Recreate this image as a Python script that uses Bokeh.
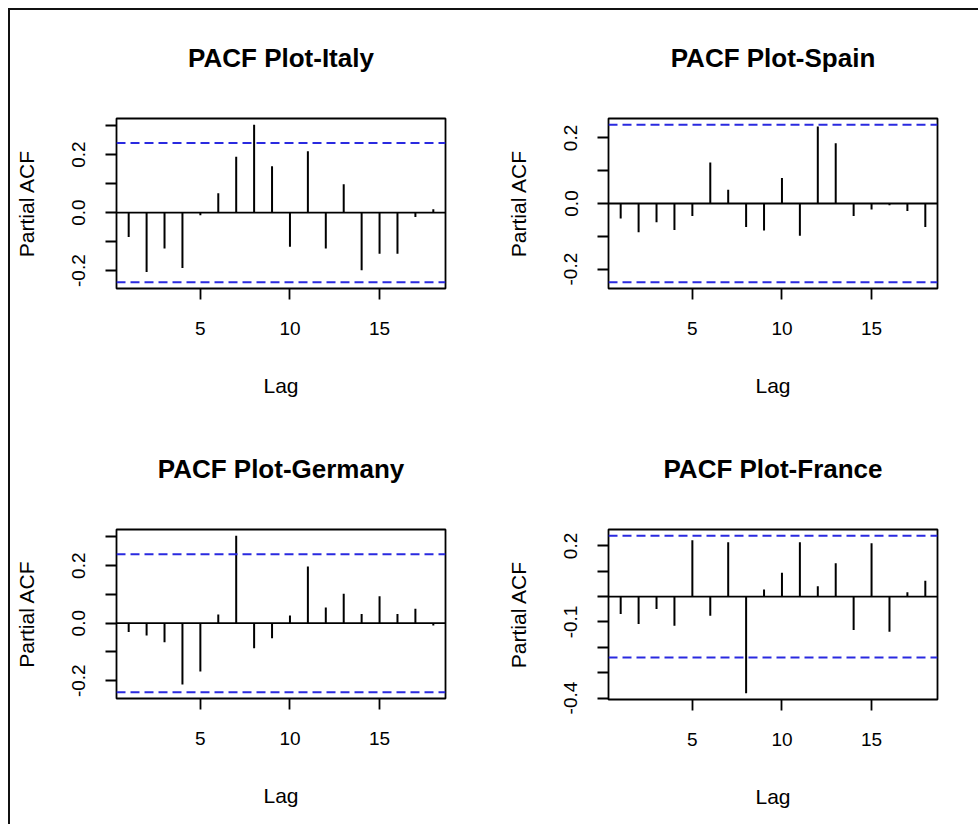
from bokeh.plotting import figure
from bokeh.layouts import gridplot
from bokeh.models import FixedTicker, Range1d, Span, LinearAxis
from bokeh.embed import file_html
from bokeh.resources import INLINE

# ---- data ----
lags = list(range(1, 19))

italy = [-0.084, -0.205, -0.124, -0.191, -0.009, 0.067, 0.193, 0.303, 0.160,
         -0.118, 0.212, -0.124, 0.098, -0.199, -0.142, -0.142, -0.015, 0.012]
spain = [-0.046, -0.088, -0.057, -0.081, -0.038, 0.125, 0.042, -0.072, -0.082,
         0.078, -0.098, 0.235, 0.184, -0.038, -0.018, -0.005, -0.023, -0.072]
germany = [-0.031, -0.043, -0.066, -0.213, -0.168, 0.030, 0.304, -0.087, -0.052,
           0.027, 0.197, 0.055, 0.102, 0.032, 0.094, 0.032, 0.050, -0.008]
france = [-0.069, -0.108, -0.049, -0.115, 0.222, -0.075, 0.215, -0.381, 0.028,
          0.094, 0.215, 0.041, 0.132, -0.132, 0.211, -0.139, 0.017, 0.063]

ci_limit = 0.24  # confidence bound shown by the dashed lines

titles = ["PACF Plot-Italy", "PACF Plot-Spain", "PACF Plot-Germany", "PACF Plot-France"]

x_ticks = [5, 10, 15]
y_ticks_std = [-0.2, -0.1, 0.0, 0.1, 0.2, 0.3]
y_labels_std = {-0.2: "-0.2", 0.0: "0.0", 0.2: "0.2"}
y_ticks_fr = [-0.4, -0.3, -0.2, -0.1, 0.0, 0.1, 0.2]
y_labels_fr = {-0.4: "-0.4", -0.1: "-0.1", 0.2: "0.2"}

FONT = "Liberation Sans"


def pacf_panel(title, vals, yticks, ylabels, width, height, b_left, b_top,
               f_height):
    lo = min(min(vals), -ci_limit)
    hi = max(max(vals), ci_limit)
    ypad = (hi - lo) * 0.04
    xpad = (max(lags) - min(lags)) * 0.04
    fw = 329
    p = figure(width=width, height=height, frame_width=fw, frame_height=f_height,
               x_range=Range1d(min(lags) - xpad, max(lags) + xpad),
               y_range=Range1d(lo - ypad, hi + ypad),
               title=None,
               output_backend="svg", toolbar_location=None,
               min_border_left=b_left, min_border_top=b_top,
               min_border_right=width - b_left - fw,
               min_border_bottom=height - b_top - f_height)

    p.grid.visible = False
    p.outline_line_color = "black"
    p.outline_line_width = 1.8
    p.background_fill_color = "white"
    p.border_fill_color = "white"

    p.segment(x0=lags, y0=[0] * len(lags), x1=lags, y1=vals,
              line_color="black", line_width=2)
    p.add_layout(Span(location=0, dimension="width", line_color="black",
                      line_width=1.8))
    for c in (ci_limit, -ci_limit):
        p.add_layout(Span(location=c, dimension="width", line_color="#2a2ae0",
                          line_width=2, line_dash="9 5"))

    ax = p.below[0]
    ay = p.left[0]
    ax.ticker = FixedTicker(ticks=x_ticks)
    ax.axis_label = "Lag"
    ay.ticker = FixedTicker(ticks=yticks)
    ay.major_label_overrides = {t: ylabels.get(t, "") for t in yticks}
    ay.axis_label = "Partial ACF"
    ay.major_label_orientation = "vertical"
    for a in (ax, ay):
        a.axis_line_color = None
        a.major_tick_line_color = "black"
        a.major_tick_line_width = 1.8
        a.major_tick_out = 11
        a.major_tick_in = 0
        a.minor_tick_line_color = None
        a.major_label_text_font = FONT
        a.major_label_text_font_size = "19px"
        a.major_label_text_color = "black"
        a.axis_label_text_font = FONT
        a.axis_label_text_font_size = "21px"
        a.axis_label_text_font_style = "normal"
        a.axis_label_text_color = "black"
    ax.major_label_standoff = 22
    ax.axis_label_standoff = 36
    ay.major_label_standoff = 20
    ay.axis_label_standoff = 32

    # chart title as the label of a tick-less axis above the frame
    tax = LinearAxis(ticker=FixedTicker(ticks=[]), axis_label=title)
    tax.axis_line_color = None
    tax.major_tick_line_color = None
    tax.minor_tick_line_color = None
    tax.major_tick_out = 0
    tax.major_tick_in = 0
    tax.minor_tick_out = 0
    tax.minor_tick_in = 0
    tax.major_label_standoff = 0
    tax.major_label_text_font_size = "0px"
    tax.axis_label_text_font = FONT
    tax.axis_label_text_font_size = "26px"
    tax.axis_label_text_font_style = "bold"
    tax.axis_label_text_color = "black"
    tax.axis_label_standoff = 46
    p.add_layout(tax, "above")
    return p


p1 = pacf_panel(titles[0], italy, y_ticks_std, y_labels_std, 480, 410, 106, 108, 170)
p2 = pacf_panel(titles[1], spain, y_ticks_std, y_labels_std, 488, 410, 118, 108, 170)
p3 = pacf_panel(titles[2], germany, y_ticks_std, y_labels_std, 480, 404, 106, 109, 169)
p4 = pacf_panel(titles[3], france, y_ticks_fr, y_labels_fr, 488, 404, 118, 108, 170)

grid = gridplot([[p1, p2], [p3, p4]], toolbar_location=None)
grid.styles = {"border-top": "2px solid #111", "border-left": "2px solid #111",
               "margin-left": "8px", "margin-top": "8px"}

open("out.html", "w").write(file_html(grid, INLINE))
